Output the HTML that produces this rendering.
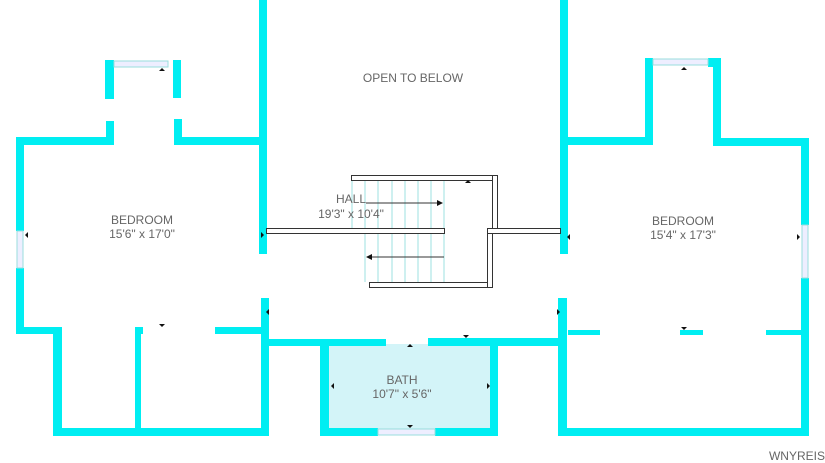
<!DOCTYPE html>
<html><head><style>
body{margin:0;background:#fff;}
svg{display:block;}
text{font-family:"Liberation Sans",sans-serif;fill:#666;font-size:12px;text-anchor:middle;}
</style></head><body>
<svg width="825" height="463" viewBox="0 0 825 463" xmlns="http://www.w3.org/2000/svg">
<rect x="329" y="344" width="162" height="85" fill="#d3f4f8"/>
<g fill="#00eef2">
<rect x="259" y="0" width="8" height="254"/>
<rect x="261" y="298" width="8" height="138"/>
<rect x="105" y="60" width="9" height="39"/>
<rect x="173" y="60" width="8" height="38"/>
<rect x="106" y="121" width="8" height="22"/>
<rect x="174" y="119" width="8" height="24"/>
<rect x="16" y="137" width="98" height="8"/>
<rect x="174" y="137" width="92" height="8"/>
<rect x="16" y="137" width="8" height="94"/>
<rect x="16" y="268" width="8" height="66"/>
<rect x="16" y="327" width="46" height="7"/>
<rect x="135" y="327" width="8" height="7"/>
<rect x="215" y="327" width="51" height="7"/>
<rect x="53" y="327" width="9" height="109"/>
<rect x="135" y="327" width="6" height="109"/>
<rect x="53" y="428" width="216" height="8"/>
<rect x="266" y="339" width="120" height="7"/>
<rect x="320" y="339" width="9" height="97"/>
<rect x="320" y="428" width="58" height="8"/>
<rect x="435" y="428" width="63" height="8"/>
<rect x="490" y="343" width="8" height="93"/>
<rect x="428" y="338" width="134" height="8"/>
<rect x="560" y="0" width="8" height="254"/>
<rect x="558" y="298" width="9" height="138"/>
<rect x="558" y="428" width="251" height="8"/>
<rect x="801" y="138" width="8" height="87"/>
<rect x="801" y="278" width="8" height="158"/>
<rect x="560" y="137" width="92" height="8"/>
<rect x="645" y="58" width="8" height="87"/>
<rect x="713" y="58" width="8" height="88"/>
<rect x="713" y="138" width="96" height="8"/>
<rect x="645" y="58" width="8" height="9"/>
<rect x="708" y="58" width="13" height="9"/>
<rect x="568" y="330" width="32" height="5"/>
<rect x="680" y="330" width="23" height="5"/>
<rect x="766" y="330" width="35" height="5"/>
</g>
<g fill="#eef" stroke="#9dd" stroke-width="1">
<rect x="114" y="61" width="54" height="6"/>
<rect x="17" y="231" width="6" height="37"/>
<rect x="378" y="429" width="57" height="6"/>
<rect x="653" y="59" width="55" height="6"/>
<rect x="802" y="225" width="6" height="53"/>
</g>
<g stroke="#9ee0e0" stroke-width="1">
<line x1="352" y1="180" x2="352" y2="228"/><line x1="365" y1="180" x2="365" y2="282"/>
<line x1="378" y1="180" x2="378" y2="282"/><line x1="392" y1="180" x2="392" y2="282"/>
<line x1="405" y1="180" x2="405" y2="282"/><line x1="418" y1="180" x2="418" y2="282"/>
<line x1="431" y1="180" x2="431" y2="282"/><line x1="444" y1="180" x2="444" y2="282"/>
</g>
<g fill="#fff" stroke="#333" stroke-width="1">
<rect x="351.5" y="175.5" width="146" height="5"/>
<rect x="492.5" y="175.5" width="5" height="53"/>
<rect x="266.5" y="228.5" width="178" height="5"/>
<rect x="369.5" y="282.5" width="123" height="5"/>
<rect x="487.5" y="228.5" width="5" height="59"/>
<rect x="487.5" y="228.5" width="73" height="5"/>
</g>
<rect x="488" y="229" width="4" height="4" fill="#fff"/>
<rect x="493" y="229" width="4" height="4" fill="#fff"/>
<g stroke="#333" stroke-width="1">
<line x1="366" y1="203" x2="438" y2="203"/>
<line x1="372" y1="257" x2="444" y2="257"/>
</g>
<g fill="#111">
<polygon points="443,203 437,200 437,206"/>
<polygon points="366,257 372,254 372,260"/>
<polygon points="468,180 465,183 471,183"/>
<polygon points="162,68 159,71 165,71"/>
<polygon points="684,67 681,70 687,70"/>
<polygon points="25,235 28,232 28,238"/>
<polygon points="264,235 261,232 261,238"/>
<polygon points="266,312 269,309 269,315"/>
<polygon points="162,327 159,324 165,324"/>
<polygon points="410,344 407,347 413,347"/>
<polygon points="466,338 463,335 469,335"/>
<polygon points="331,386 334,383 334,389"/>
<polygon points="490,386 487,383 487,389"/>
<polygon points="410,428 407,425 413,425"/>
<polygon points="567,237 570,234 570,240"/>
<polygon points="560,312 557,309 557,315"/>
<polygon points="684,330 681,327 687,327"/>
<polygon points="800,237 797,234 797,240"/>
</g>
<text x="413" y="82">OPEN TO BELOW</text>
<text x="142" y="224">BEDROOM</text>
<text x="142" y="238">15'6" x 17'0"</text>
<text x="351" y="203">HALL</text>
<text x="351" y="218">19'3" x 10'4"</text>
<text x="683" y="225">BEDROOM</text>
<text x="683" y="239">15'4" x 17'3"</text>
<text x="402" y="384">BATH</text>
<text x="402" y="398">10'7" x 5'6"</text>
<text x="797" y="460" font-size="11">WNYREIS</text>
</svg>
</body></html>
